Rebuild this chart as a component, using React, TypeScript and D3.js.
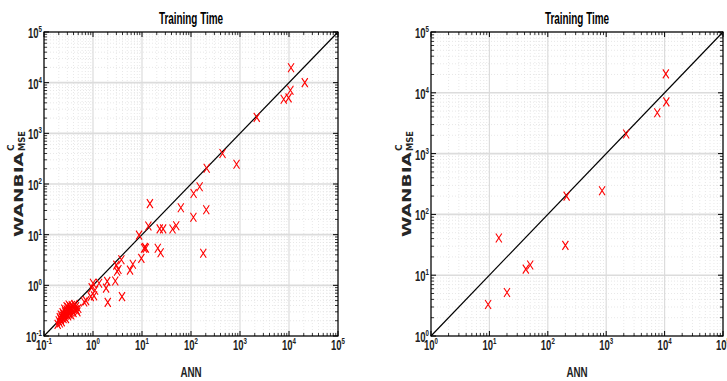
import React from 'react';
import * as d3 from 'd3';

// ANN vs WANBIA training time, all datasets (left) and large datasets (right)
const leftPoints: [number, number][] = [
  [11000, 19700], [21000, 10000], [10700, 7100], [9800, 5000], [7800, 4700],
  [2200, 2070], [440, 400], [850, 245], [209, 204], [150, 88], [113, 65],
  [14.5, 41], [62, 34], [205, 31], [112, 22], [13.5, 14.8], [23, 13], [27, 13],
  [42, 12.9], [50, 15], [8.7, 9.8], [11, 5.4], [11.5, 5.6], [12, 5.4], [21, 5.4],
  [24, 4.4], [178, 4.3], [9.7, 3.4], [6.5, 2.6], [3.8, 3.2], [5.7, 2.0],
  [3.0, 2.5], [3.3, 2.05], [3.1, 1.9], [2.85, 1.22], [1.95, 1.2], [1.33, 1.1],
  [1.0, 1.1], [0.94, 0.9], [1.1, 0.8], [1.85, 0.88], [0.9, 0.6], [1.05, 0.62],
  [2.0, 0.46], [3.9, 0.6], [0.66, 0.47], [0.72, 0.5], [0.46, 0.33], [0.5, 0.35],
  [0.19, 0.17], [0.2, 0.2], [0.21, 0.18], [0.22, 0.21], [0.23, 0.19], [0.23, 0.23],
  [0.24, 0.25], [0.25, 0.22], [0.25, 0.27], [0.26, 0.24], [0.27, 0.3], [0.27, 0.26],
  [0.28, 0.22], [0.28, 0.28], [0.29, 0.33], [0.3, 0.27], [0.3, 0.31], [0.31, 0.25],
  [0.31, 0.36], [0.32, 0.29], [0.33, 0.33], [0.33, 0.27], [0.34, 0.38], [0.35, 0.3],
  [0.35, 0.34], [0.36, 0.26], [0.37, 0.4], [0.38, 0.32], [0.4, 0.36], [0.4, 0.29],
  [0.42, 0.42], [0.44, 0.33], [0.45, 0.38], [0.48, 0.3], [0.26, 0.34], [0.29, 0.38],
  [0.32, 0.41], [0.24, 0.29], [0.22, 0.26], [0.21, 0.23],
];

const rightPoints: [number, number][] = [
  [9.5, 3.3], [20, 5.2], [14.5, 41], [42, 12.6], [50, 14.7], [200, 31],
  [210, 200], [850, 245], [2200, 2100], [7500, 4700], [10700, 7100], [10500, 20500],
];

const leftDecades = [-1, 0, 1, 2, 3, 4, 5];
const rightDecades = [0, 1, 2, 3, 4, 5];

const titleText = 'Training Time';
const xLabelText = 'ANN';

const font = "'Liberation Sans',Arial,sans-serif";

type PanelProps = {
  points: [number, number][];
  decades: number[];
  left: number;
  right: number;
  labelX: number;
};

// squeezed text, the original figure uses a very condensed face
const Narrow = ({ x, y, anchor, sx, size, children, fill = '#222' }: any) => (
  <g transform={`translate(${x},${y}) scale(${sx},1)`}>
    <text x={0} y={0} textAnchor={anchor} fontFamily={font} fontWeight="bold" fontSize={size} fill={fill}>
      {children}
    </text>
  </g>
);

const Panel = ({ points, decades, left, right, labelX }: PanelProps) => {
  const top = 32;
  const bottom = 336;
  const lo = Math.pow(10, decades[0]);
  const hi = Math.pow(10, decades[decades.length - 1]);

  const x = d3.scaleLog().domain([lo, hi]).range([left, right]);
  const y = d3.scaleLog().domain([lo, hi]).range([bottom, top]);

  const majors = decades.map(d => Math.pow(10, d));
  const minors: number[] = [];
  decades.slice(0, -1).forEach(d => {
    for (let k = 2; k <= 9; k++) minors.push(k * Math.pow(10, d));
  });

  const cx = (left + right) / 2;
  const cy = (top + bottom) / 2;

  return (
    <g>
      {/* minor grid */}
      {minors.map((v, i) => (
        <g key={'mg' + i}>
          <line x1={x(v)} x2={x(v)} y1={top} y2={bottom} stroke="#e2e2e2" strokeWidth={0.8} strokeDasharray="1,2" />
          <line x1={left} x2={right} y1={y(v)} y2={y(v)} stroke="#e2e2e2" strokeWidth={0.8} strokeDasharray="1,2" />
        </g>
      ))}
      {/* major grid */}
      {majors.map((v, i) => (
        <g key={'Mg' + i}>
          <line x1={x(v)} x2={x(v)} y1={top} y2={bottom} stroke="#dcdcdc" strokeWidth={1.2} />
          <line x1={left} x2={right} y1={y(v)} y2={y(v)} stroke="#dcdcdc" strokeWidth={1.6} />
        </g>
      ))}

      {/* diagonal */}
      <line x1={x(lo)} y1={y(lo)} x2={x(hi)} y2={y(hi)} stroke="#000" strokeWidth={1.2} />

      {/* markers */}
      {points.map((p, i) => {
        const px = x(p[0]);
        const py = y(p[1]);
        return (
          <path
            key={'p' + i}
            d={`M${px - 3},${py - 4.5}L${px + 3},${py + 4.5}M${px + 3},${py - 4.5}L${px - 3},${py + 4.5}`}
            stroke="#ff0000"
            strokeWidth={1.1}
            fill="none"
          />
        );
      })}

      {/* box */}
      <rect x={left} y={top} width={right - left} height={bottom - top} fill="none" stroke="#000" strokeWidth={1.2} />

      {/* ticks */}
      {minors.map((v, i) => (
        <g key={'mt' + i} stroke="#000" strokeWidth={0.8}>
          <line x1={x(v)} x2={x(v)} y1={bottom} y2={bottom - 3} />
          <line x1={x(v)} x2={x(v)} y1={top} y2={top + 3} />
          <line x1={left} x2={left + 3} y1={y(v)} y2={y(v)} />
          <line x1={right} x2={right - 3} y1={y(v)} y2={y(v)} />
        </g>
      ))}
      {majors.map((v, i) => (
        <g key={'Mt' + i} stroke="#000" strokeWidth={1}>
          <line x1={x(v)} x2={x(v)} y1={bottom} y2={bottom - 5} />
          <line x1={x(v)} x2={x(v)} y1={top} y2={top + 5} />
          <line x1={left} x2={left + 5} y1={y(v)} y2={y(v)} />
          <line x1={right} x2={right - 5} y1={y(v)} y2={y(v)} />
        </g>
      ))}

      {/* tick labels */}
      {decades.map((d, i) => (
        <Narrow key={'xl' + i} x={x(Math.pow(10, d))} y={350} anchor="middle" sx={0.68} size={14}>
          10<tspan fontSize={9} dy={-6}>{d}</tspan>
        </Narrow>
      ))}
      {decades.map((d, i) => (
        <Narrow key={'yl' + i} x={left - 2} y={y(Math.pow(10, d)) + 6} anchor="end" sx={0.68} size={14}>
          10<tspan fontSize={9} dy={-6}>{d}</tspan>
        </Narrow>
      ))}

      {/* title and axis labels */}
      <Narrow x={cx} y={24} anchor="middle" sx={0.62} size={16} fill="#000">{titleText}</Narrow>
      <Narrow x={cx} y={377} anchor="middle" sx={0.7} size={14}>{xLabelText}</Narrow>
      <g transform={`translate(${labelX},${cy + 53}) rotate(-90)`} fontFamily="'DejaVu Sans',sans-serif" fontWeight="bold" fill="#262626">
        <text x={0} y={0} fontSize={13} textLength={85} lengthAdjust="spacingAndGlyphs">WANBIA</text>
        <text x={86} y={-9} fontSize={9}>C</text>
        <text x={86} y={2} fontSize={9} textLength={20} lengthAdjust="spacingAndGlyphs">MSE</text>
      </g>
    </g>
  );
};

const App = () => {
  return (
    <svg width={727} height={381} style={{ position: 'absolute', left: 0, top: 0, background: '#fff' }}>
      <rect width={727} height={381} fill="#fff" />
      <Panel points={leftPoints} decades={leftDecades} left={44} right={338} labelX={23} />
      <Panel points={rightPoints} decades={rightDecades} left={431} right={723} labelX={411} />
    </svg>
  );
};

export default App;
